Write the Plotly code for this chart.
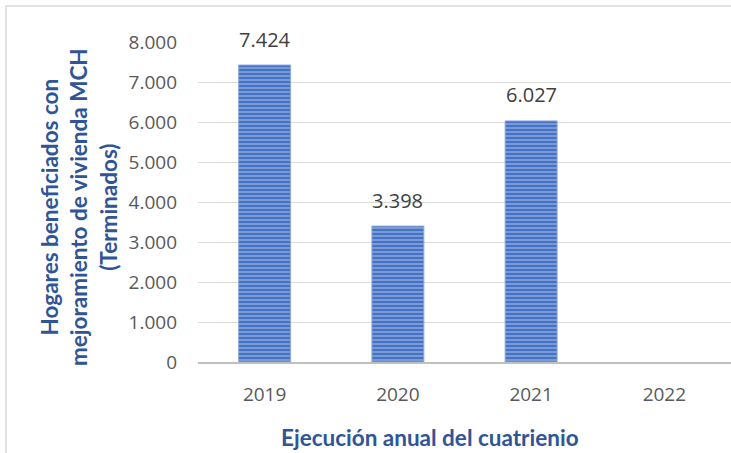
import plotly.graph_objects as go

years = ["2019", "2020", "2021", "2022"]
values = [7424, 3398, 6027, 0]
labels = ["7.424", "3.398", "6.027", ""]
y_ticks = [0, 1000, 2000, 3000, 4000, 5000, 6000, 7000, 8000]
y_ticktext = ["0", "1.000", "2.000", "3.000", "4.000", "5.000", "6.000", "7.000", "8.000"]

W, H = 731, 453
L, R, T, B = 198, 0, 42, 91
pw, ph = W - L - R, H - T - B

fig = go.Figure(go.Bar(
    x=years, y=values,
    cliponaxis=False, width=0.39,
    marker=dict(color="#4472C4",
                line=dict(color="#8FAADC", width=[1, 1, 1, 0]),
                pattern=dict(shape="-", fgcolor="#DCE4F4", bgcolor="#4472C4",
                             size=4, solidity=0.35, fillmode="overlay")),
    hoverinfo="skip",
))

label_annots = [
    dict(x=i, y=yv, text=t, xref="x", yref="y", showarrow=False,
         yanchor="middle", xanchor="center", yshift=26,
         font=dict(family="Open Sans", size=20, color="#404040"))
    for i, (yv, t) in enumerate(zip(values, labels)) if t
]

fig.update_layout(
    width=W, height=H, margin=dict(l=L, r=R, t=T, b=B),
    paper_bgcolor="white", plot_bgcolor="white", showlegend=False,
    font=dict(family="Open Sans", color="#595959"),
    xaxis=dict(type="category", range=[-0.5, 3.5], showgrid=False, showline=True,
               linecolor="#BFBFBF", linewidth=1.5, ticks="",
               ticklabelstandoff=14,
               tickfont=dict(size=19, color="#595959")),
    yaxis=dict(range=[0, 8000], tickvals=y_ticks, ticktext=y_ticktext,
               showgrid=True, gridcolor="#D9D9D9", gridwidth=1,
               zeroline=False, showline=False, ticks="",
               ticklabelstandoff=20,
               tickfont=dict(size=19, color="#595959")),
    shapes=[dict(type="rect", xref="paper", yref="paper",
                 x0=(6 - L) / pw, x1=1.02, y0=-0.4, y1=(H - B - 6) / ph,
                 line=dict(color="#D9D9D9", width=1.5), fillcolor="rgba(0,0,0,0)",
                 layer="below")],
    annotations=label_annots + [
        dict(text="<b>Hogares beneficiados con<br>mejoramiento de vivienda MCH<br>(Terminados)</b>",
             xref="paper", yref="paper",
             x=(79 - L) / pw, y=(H - B - 207) / ph,
             xanchor="center", yanchor="middle", textangle=-90,
             showarrow=False,
             font=dict(family="Lato", size=22.5, color="#2F5597")),
        dict(text="<b>Ejecución anual del cuatrienio</b>",
             xref="paper", yref="paper",
             x=(430 - L) / pw, y=(H - B - 437) / ph,
             xanchor="center", yanchor="middle", showarrow=False,
             font=dict(family="Lato", size=22.5, color="#2F5597")),
    ],
)

fig.write_html("out.html", config={"displayModeBar": False},
               post_script="document.body.style.margin='0';")
